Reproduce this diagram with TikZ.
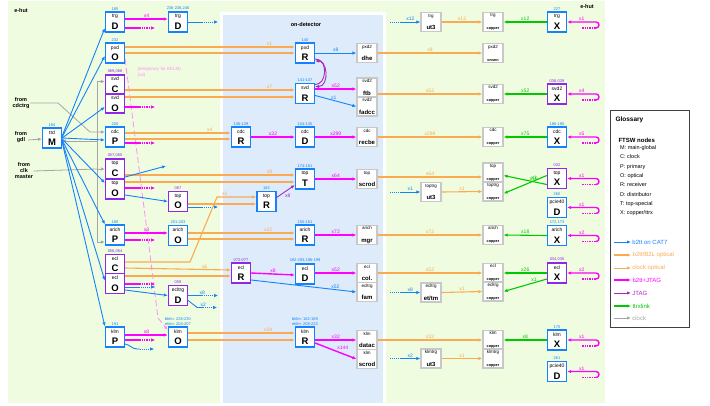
\documentclass[tikz,border=0pt]{standalone}
\usepackage{fontspec}
\setmainfont{Liberation Sans}
\usetikzlibrary{arrows.meta, positioning, calc}
\definecolor{ftblue}{RGB}{20,130,250}
\definecolor{ftpurple}{RGB}{140,40,230}
\definecolor{ftmag}{RGB}{255,0,255}
\definecolor{ftorange}{RGB}{250,170,80}
\definecolor{ftgreen}{RGB}{0,200,0}
\definecolor{ftgray}{RGB}{165,165,165}
\definecolor{jtagcol}{RGB}{170,40,190}
\definecolor{ehutbg}{RGB}{240,252,224}
\definecolor{detbg}{RGB}{221,235,250}
\definecolor{boxgray}{RGB}{200,200,200}

\tikzset{
  ftn/.style={draw=ftblue, line width=1.3pt, fill=white, minimum width=19pt, minimum height=20pt, inner sep=0pt, align=center},
  ftnp/.style={ftn, draw=ftpurple},
  cpb/.style={draw=boxgray, line width=1.3pt, fill=white, minimum width=20pt, minimum height=19pt, inner sep=0pt, align=center},
  idl/.style={font=\fontsize{4}{4.5}\selectfont, text=ftblue, inner sep=0.7pt},
  idlp/.style={idl, text=ftpurple},
  txt/.style={font=\fontsize{5.5}{6}\selectfont\bfseries, align=center, inner sep=0.5pt},
  mult/.style={font=\fontsize{5}{5}\selectfont, inner sep=0.8pt},
  bl/.style={draw=ftblue, line width=0.9pt},
  mg/.style={draw=ftmag, line width=1.4pt},
  orl/.style={draw=ftorange, line width=1.1pt},
  gn/.style={draw=ftgreen, line width=1.1pt},
  gyl/.style={draw=ftgray, line width=0.8pt},
  jt/.style={draw=jtagcol, line width=0.9pt},
}
\newcommand{\ftx}[2]{{\fontsize{5}{5.5}\selectfont #1}\\[-0.5pt]{\fontsize{9.5}{9.5}\selectfont\bfseries #2}}
\newcommand{\cpx}[2]{{\fontsize{4.5}{5}\selectfont #1}\\[0.5pt]{\fontsize{6}{6}\selectfont\bfseries #2}}
\newcommand{\cop}[2][copper]{{\fontsize{4.5}{5}\selectfont #2}\\[1pt]{\fontsize{3.8}{4}\selectfont\bfseries #1}}
% solid start, dotted end
\newcommand{\stubout}[2]{\draw[#1] (#2) -- ++(14,0) edge[densely dotted,->] ++(16,0);}
\newcommand{\stubin}[3]{\draw[#1, densely dotted] ($(#2.west)+(-30,0)$) -- ++(10,0) edge[->, solid] node[mult, text=ftblue, above]{#3} (#2.west);}
\newcommand{\loopin}[2]{%
  \draw[mg, densely dotted] ($(#1.east)+(15,6)$) -- ++(14,0);
  \draw[mg, ->] ($(#1.east)+(29,6)$) to[out=0, in=0, looseness=1.6] ($(#1.east)+(29,0)$) -- (#1.east) node[mult, text=ftmag, above, pos=0.5]{#2};}

\begin{document}
\begin{tikzpicture}[x=1pt, y=-1pt, >={Latex[length=4pt,width=3.4pt]}]
\useasboundingbox (0,0) rectangle (710,405);
% areas
\fill[ehutbg] (8,1) rectangle (605,403);
\fill[white] (220,12) rectangle (386,403);
\fill[detbg] (223,15) rectangle (383,403);
\node[txt] at (21,11) {e-hut};
\node[txt] at (587,7) {e-hut};
\node[txt] at (306,25) {on-detector};

% e-hut FTSWs
\node[ftn, label={[idl]above:184}] (ttdM) at (52,138) {\ftx{ttd}{M}};
\node[ftn, label={[idl]above:185}] (trgDa) at (115,22) {\ftx{trg}{D}};
\node[ftn, label={[idl]above:232}] (pxdO) at (115,53) {\ftx{pxd}{O}};
\node[ftnp, minimum height=19pt, label={[idlp]above:069,066}] (svdC) at (115,84.5) {\ftx{svd}{C}};
\node[ftnp, minimum height=19pt] (svdO) at (115,103.5) {\ftx{svd}{O}};
\node[ftn, label={[idl]above:200}] (cdcP) at (115,137) {\ftx{cdc}{P}};
\node[ftnp, label={[idlp]above:057,065}] (topC) at (115,169) {\ftx{top}{C}};
\node[ftnp] (topO) at (115,189) {\ftx{top}{O}};
\node[ftn, label={[idl]above:180}] (arichP) at (115,235) {\ftx{arich}{P}};
\node[ftnp, minimum height=19.5pt, label={[idlp]above:056,064}] (eclC) at (115,264) {\ftx{ecl}{C}};
\node[ftnp, minimum height=19.5pt] (eclO) at (115,283.5) {\ftx{ecl}{O}};
\node[ftn, label={[idl]above:191}] (klmP) at (115,337) {\ftx{klm}{P}};

\node[ftn, label={[idl]above:236-238,246}] (trgDb) at (178,22) {\ftx{trg}{D}};
\node[ftnp, label={[idlp]above:067}] (topOb) at (178,201.5) {\ftx{top}{O}};
\node[ftn, label={[idl]above:201-203}] (arichO) at (178,235.5) {\ftx{arich}{O}};
\node[ftnp, label={[idlp]above:059}] (ecltrgD) at (178,295.5) {\ftx{ecltrg}{D}};
\node[ftn, label={[idl, align=left]above:{bklm: 228-230\\eklm: 204-207}}] (klmO) at (178,337) {\ftx{klm}{O}};

% on-detector
\node[ftn, label={[idl]above:136-139}] (cdcR) at (241,137) {\ftx{cdc}{R}};
\node[ftn, label={[idl]above:182}] (topR) at (266.5,201.5) {\ftx{top}{R}};
\node[ftnp, label={[idlp]above:072-077}] (eclR) at (241,273) {\ftx{ecl}{R}};
\node[ftn, label={[idl]above:140}] (pxdR) at (305,53) {\ftx{pxd}{R}};
\node[ftn, label={[idl]above:141-147}] (svdR) at (305,93.5) {\ftx{svd}{R}};
\node[ftn, label={[idl]above:104-135}] (cdcD) at (305,137) {\ftx{cdc}{D}};
\node[ftn, label={[idl]above:174-181}] (topT) at (305,179) {\ftx{top}{T}};
\node[ftn, label={[idl]above:150-161}] (arichR) at (305,235) {\ftx{arich}{R}};
\node[ftn, label={[idl]above:192-193,196-199}] (eclD) at (305,274) {\ftx{ecl}{D}};
\node[ftn, label={[idl, align=left]above:{bklm: 162-169\\eklm: 208-223}}] (klmR) at (305,337) {\ftx{klm}{R}};

\node[cpb] (pxdDhe) at (367,53) {\cpx{pxd2}{dhe}};
\node[cpb] (svdFtb) at (367,87.5) {\cpx{svd2}{ftb}};
\node[cpb] (svdFadc) at (367,106.5) {\cpx{svd2}{fadcc}};
\node[cpb] (cdcRecbe) at (367,137) {\cpx{cdc}{recbe}};
\node[cpb] (topScrod) at (367,179) {\cpx{top}{scrod}};
\node[cpb] (arichMgr) at (367,235) {\cpx{arich}{mgr}};
\node[cpb] (eclCol) at (367,273) {\cpx{ecl}{col.}};
\node[cpb] (eclFam) at (367,292) {\cpx{ecltrg}{fam}};
\node[cpb] (klmDatac) at (367,340) {\cpx{klm}{datac}};
\node[cpb] (klmScrod) at (367,359) {\cpx{klm}{scrod}};

% trigger and copper side
\node[cpb] (trgUt) at (431,22) {\cpx{trg}{ut3}};
\node[cpb] (toptrgUt) at (431,192) {\cpx{toptrg}{ut3}};
\node[cpb] (ecltrgEt) at (431,292.5) {\cpx{ecltrg}{et/tm}};
\node[cpb] (klmtrgUt) at (431,358.5) {\cpx{klmtrg}{ut3}};

\node[cpb] (trgCop) at (493,22) {\cop{trg}};
\node[cpb] (pxdOnsen) at (493,53) {\cop[onsen]{pxd2}};
\node[cpb] (svdCop) at (493,94) {\cop{svd2}};
\node[cpb] (cdcCop) at (493,137) {\cop{cdc}};
\node[cpb] (topCop) at (493,172.5) {\cop{top}};
\node[cpb] (toptrgCop) at (493,191.5) {\cop{toptrg}};
\node[cpb] (arichCop) at (493,235) {\cop{arich}};
\node[cpb] (eclCop) at (493,273) {\cop{ecl}};
\node[cpb] (ecltrgCop) at (493,291.5) {\cop{ecltrg}};
\node[cpb] (klmCop) at (493,340) {\cop{klm}};
\node[cpb] (klmtrgCop) at (493,358.5) {\cop{klmtrg}};

\node[ftn, label={[idl]above:227}] (trgX) at (557,22) {\ftx{trg}{X}};
\node[ftnp, label={[idlp]above:036-039}] (svdX) at (557,94) {\ftx{svd2}{X}};
\node[ftn, label={[idl]above:186-190}] (cdcX) at (557,137) {\ftx{cdc}{X}};
\node[ftnp, label={[idlp]above:032}] (topX) at (557,178.5) {\ftx{top}{X}};
\node[ftn, label={[idl]above:260}] (pcieA) at (557,207.5) {\ftx{pcie40}{D}};
\node[ftn, label={[idl]above:172,173}] (arichX) at (557,235.5) {\ftx{arich}{X}};
\node[ftnp, label={[idlp]above:034,035}] (eclX) at (557,273) {\ftx{ecl}{X}};
\node[ftn, label={[idl]above:170}] (klmX) at (557,340) {\ftx{klm}{X}};
\node[ftn, label={[idl]above:261}] (pcieB) at (557,371.5) {\ftx{pcie40}{D}};

% external inputs
\node[txt] (fromCdc) at (21,103) {from\\cdctrg};
\node[txt] (fromGdl) at (21,137) {from\\gdl};
\node[txt] (fromClk) at (24,171) {from\\clk\\master};
\coordinate (clkBus) at (97,169);
\draw[gyl,->] (fromCdc.east) -- (58,103) -- (90,132) -- ([yshift=5pt]cdcP.west);
\draw[gyl,->] ([yshift=-3pt]fromGdl.east) -- ([yshift=-1pt]ttdM.west);
\draw[gyl] (fromClk.east) -- (clkBus);
\draw[gyl,->] (clkBus) |- ([yshift=3pt]svdC.west);
\draw[gyl,->] (clkBus) |- ([yshift=-3pt]ttdM.east);
\draw[gyl,->] (clkBus) -- (topC.west);
\draw[gyl,->] (clkBus) |- ([yshift=-7pt]arichP.west);

% b2tt on CAT7 from ttd
\draw[bl,->] ([yshift=2pt]ttdM.east) -- ([yshift=-6pt]trgDa.west);
\draw[bl,->] ([yshift=1pt]ttdM.east) -- ([yshift=-3pt]pxdO.west);
\draw[bl,->] (ttdM.east) -- ([yshift=-3.5pt]svdO.west);
\draw[bl,->] (ttdM.east) -- ([yshift=-3pt]cdcP.west);
\draw[bl,->] ([yshift=-1pt]ttdM.east) -- ([yshift=6pt]topO.west);
\draw[bl,->] ([yshift=-2pt]ttdM.east) -- (arichP.north west);
\draw[bl,->] ([yshift=-3pt]ttdM.east) -- ([yshift=3pt]eclO.west);
\draw[bl,->] ([yshift=-4pt]ttdM.east) -- (klmP.north west);

% temporary EKLM link
\draw[ftmag!45, line width=0.8pt, dash pattern=on 6pt off 3pt, ->] ([yshift=-6pt]pxdO.east) -- (158,318) -- ([yshift=7pt]klmO.west);
\node[font=\fontsize{4.5}{5.5}\selectfont, text=ftmag!45, align=left, anchor=north west] at (134,64) {(temporary for EKLM)\\(x4)};

% trg row
\draw[mg,->] ([yshift=3pt]trgDa.east) -- ([yshift=3pt]trgDb.west) node[mult, text=ftmag, above, midway]{x4};
\stubout{mg}{[yshift=-6pt]trgDa.east}
\stubout{bl}{trgDb.east}
\stubin{bl}{trgUt}{x12}
\draw[orl,->] (trgUt.east) -- (trgCop.west) node[mult, text=ftorange, above, midway]{x12};
\draw[gn,->] (trgX.west) -- (trgCop.east) node[mult, text=ftgreen, above, midway]{x12};
\loopin{trgX}{x1}

% pxd row
\draw[orl,->] ([yshift=6pt]pxdO.east) -- ([yshift=6pt]pxdR.west) node[mult, text=ftorange, above, pos=0.85]{x1};
\draw[orl,->] (pxdO.east) -- (pxdR.west);
\draw[bl,->] (pxdR.east) -- (pxdDhe.west) node[mult, text=ftblue, above, midway]{x8};
\draw[orl,->] (pxdDhe.east) -- (pxdOnsen.west) node[mult, text=ftorange, above, midway]{x8};
\draw[jt,->] ([yshift=-6pt]pxdR.east) to[out=0, in=0, looseness=1.3] ([yshift=7pt]svdR.east);
\draw[jt,->] ([yshift=9pt]svdR.east) to[out=0, in=0, looseness=1.3] ([yshift=-8pt]pxdR.east);

% svd row
\draw[orl,->] ([yshift=-5.5pt]svdC.east) -- ([yshift=3.5pt]svdR.west) node[mult, text=ftorange, above, pos=0.85]{x7};
\draw[orl,->] ([yshift=6.5pt]svdO.east) -- ([yshift=-3.5pt]svdR.west);
\stubout{mg}{[yshift=-3.5pt]svdO.east}
\draw[mg,->] ([yshift=4.5pt]svdR.east) -- ([yshift=-1.5pt]svdFtb.west) node[mult, text=ftmag, above, midway]{x52};
\draw[bl,->] ([yshift=-2pt]svdR.east) -- (svdFadc.west) node[mult, text=ftblue, above, pos=0.45]{x1};
\draw[orl,->] ([yshift=-6.5pt]svdFtb.east) -- (svdCop.west) node[mult, text=ftorange, above, midway]{x52};
\draw[gn,->] (svdX.west) -- (svdCop.east) node[mult, text=ftgreen, above, midway]{x52};
\loopin{svdX}{x4}

% cdc row
\draw[orl,->] ([yshift=4pt]cdcP.east) -- ([yshift=4pt]cdcR.west) node[mult, text=ftorange, above, pos=0.8]{x4};
\draw[orl,->] ([yshift=-2pt]cdcP.east) -- ([yshift=-2pt]cdcR.west);
\stubout{mg}{[yshift=-6pt]cdcP.east}
\draw[mg,->] (cdcR.east) -- (cdcD.west) node[mult, text=ftmag, above, midway]{x32};
\draw[mg,->] (cdcD.east) -- (cdcRecbe.west) node[mult, text=ftmag, above, midway]{x299};
\draw[orl,->] (cdcRecbe.east) -- (cdcCop.west) node[mult, text=ftorange, above, midway]{x299};
\draw[gn,->] (cdcX.west) -- (cdcCop.east) node[mult, text=ftgreen, above, midway]{x75};
\loopin{cdcX}{x5}

% top row
\draw[orl,->] ([yshift=-6pt]topC.east) -- ([yshift=4pt]topT.west) node[mult, text=ftorange, above, pos=0.85]{x8};
\draw[orl,->] ([yshift=7pt]topO.east) -- ([yshift=-3pt]topT.west);
\coordinate (topCend) at (166,166);
\draw[bl,->] ([yshift=-8pt]topC.east) -- (topCend);
\stubout{mg}{[yshift=1pt]topO.east}
\draw[bl,->] ([yshift=-6pt]topO.east) -- (topOb.west);
\draw[orl,->] ([yshift=-2.5pt]topOb.east) -- ([yshift=-2.5pt]topR.west);
\stubout{bl}{[yshift=-5.5pt]topOb.east}
\draw[orl,->] ([yshift=2pt]eclC.east) -- (190,262) -- (217,197) -- ([yshift=4.5pt]topR.west) node[mult, text=ftorange, above, pos=0.2]{x1};
\draw[jt,->] ([yshift=4pt]topR.east) -- ([yshift=-6pt]topT.west) node[mult, text=jtagcol, below right, pos=0.4]{x8};
\draw[mg,->] (topT.east) -- (topScrod.west) node[mult, text=ftmag, above, midway]{x64};
\draw[orl,->] ([yshift=2pt]topScrod.east) -- ([yshift=-4.5pt]topCop.west) node[mult, text=ftorange, above, midway]{x64};
\stubin{bl}{toptrgUt}{x1}
\draw[orl,->] (toptrgUt.east) -- (toptrgCop.west) node[mult, text=ftorange, above, midway]{x1};
\draw[gn,->] ([yshift=-6pt]topX.west) -- ([yshift=-3pt]topCop.east) node[mult, text=ftgreen, above, pos=0.3]{x16};
\draw[gn,->] ([yshift=3pt]topX.west) -- ([yshift=-2pt]toptrgCop.east) node[mult, text=ftgreen, above, pos=0.3]{x1};
\loopin{topX}{x1}
\loopin{pcieA}{x1}

% arich row
\draw[mg,->] ([yshift=2pt]arichP.east) -- ([yshift=2.5pt]arichO.west) node[mult, text=ftmag, above, midway]{x3};
\stubout{mg}{[yshift=-5pt]arichP.east}
\draw[orl,->] ([yshift=2.5pt]arichO.east) -- ([yshift=2pt]arichR.west) node[mult, text=ftorange, above, pos=0.75]{x12};
\draw[orl,->] ([yshift=-3.5pt]arichO.east) -- ([yshift=-4pt]arichR.west);
\draw[mg,->] (arichR.east) -- (arichMgr.west) node[mult, text=ftmag, above, midway]{x72};
\draw[orl,->] (arichMgr.east) -- (arichCop.west) node[mult, text=ftorange, above, midway]{x72};
\draw[gn,->] (arichX.west) -- (arichCop.east) node[mult, text=ftgreen, above, midway]{x18};
\loopin{arichX}{x2}

% ecl row
\draw[orl,->] ([yshift=-4pt]eclC.east) -- ([yshift=3pt]eclR.west) node[mult, text=ftorange, above, pos=0.75]{x6};
\draw[orl,->] ([yshift=7.5pt]eclO.east) -- ([yshift=-3pt]eclR.west);
\stubout{mg}{[yshift=-0.5pt]eclO.east}
\stubout{bl}{[yshift=-3.5pt]eclO.east}
\draw[bl,->] ([yshift=-6.5pt]eclO.east) -- (ecltrgD.west);
\draw[bl] (ecltrgD.east) -- ++(14,0) edge[densely dotted,->] node[mult, text=ftblue, above, pos=0]{x8} ++(16,0);
\draw[bl] ([yshift=-5pt]ecltrgD.east) -- ++(9,7) -- ++(6,0) edge[densely dotted,->] node[mult, text=ftblue, above, pos=0]{x2} ++(14,0);
\draw[mg,->] (eclR.east) -- ([yshift=-1pt]eclD.west) node[mult, text=ftmag, above, midway]{x8};
\draw[bl,->] ([yshift=-7pt]eclR.east) -- (eclFam.west) node[mult, text=ftblue, above, pos=0.8]{x52};
\draw[mg,->] ([yshift=1pt]eclD.east) -- (eclCol.west) node[mult, text=ftmag, above, midway]{x52};
\draw[orl,->] (eclCol.east) -- (eclCop.west) node[mult, text=ftorange, above, midway]{x52};
\stubin{bl}{ecltrgEt}{x8}
\draw[orl,->] (ecltrgEt.east) -- (ecltrgCop.west) node[mult, text=ftorange, above, midway]{x1};
\draw[gn,->] (eclX.west) -- (eclCop.east) node[mult, text=ftgreen, above, midway]{x26};
\draw[gn,->] ([yshift=-6pt]eclX.west) -- (ecltrgCop.east) node[mult, text=ftgreen, above, pos=0.3]{x1};
\loopin{eclX}{x2}

% klm row
\draw[mg,->] ([yshift=2pt]klmP.east) -- ([yshift=2pt]klmO.west) node[mult, text=ftmag, above, midway]{x8};
\stubout{mg}{[yshift=-3pt]klmP.east}
\draw[bl] ([yshift=-7pt]klmP.east) to[out=-10, in=180] ++(12,5) -- ++(3,0) edge[densely dotted,->] ++(14,0);
\draw[orl,->] ([yshift=4pt]klmO.east) -- ([yshift=4pt]klmR.west) node[mult, text=ftorange, above, pos=0.75]{x24};
\draw[orl,->] ([yshift=-3pt]klmO.east) -- ([yshift=-3pt]klmR.west);
\draw[mg,->] ([yshift=-3pt]klmR.east) -- (klmDatac.west) node[mult, text=ftmag, above, midway]{x32};
\draw[mg,->] ([yshift=-6pt]klmR.east) -- (klmScrod.west) node[mult, text=ftmag, above right, pos=0.5]{x144};
\draw[orl,->] (klmDatac.east) -- (klmCop.west) node[mult, text=ftorange, above, midway]{x32};
\stubin{bl}{klmtrgUt}{x2}
\draw[orl,->] (klmtrgUt.east) -- (klmtrgCop.west) node[mult, text=ftorange, above, midway]{x1};
\draw[gn,->] (klmX.west) -- (klmCop.east) node[mult, text=ftgreen, above, midway]{x8};
\loopin{klmX}{x1}
\loopin{pcieB}{x1}

% glossary
\draw[draw=black!75, line width=0.8pt, fill=white] (610,110) rectangle (689,327);
\node[font=\fontsize{6.5}{7}\selectfont\bfseries, anchor=west] at (612,120) {Glossary};
\node[font=\fontsize{6}{7}\selectfont\bfseries, anchor=west] at (615,140) {FTSW nodes};
\node[font=\fontsize{5.5}{9.3}\selectfont, align=left, anchor=north west, inner sep=0pt] at (620,145.5)
  {M: main-global\\C: clock\\P: primary\\O: optical\\R: receiver\\D: distributor\\T: top-special\\X: copper/ttrx};
\foreach \ly/\lc/\lw/\lt in {242/ftblue/0.9/{b2tt on CAT7}, 255/ftorange/1.4/{b2tt/B2L optical}, 268/ftorange/0.8/{clock optical}, 280/ftmag/1.3/{b2tt+JTAG}, 293/jtagcol/0.9/{JTAG}, 306/ftgreen/1.1/{ttrxlink}, 318/ftgray/0.8/{clock}}
  \draw[draw=\lc, line width=\lw pt, ->] (614,\ly) -- (631,\ly) node[right, text=\lc, font=\fontsize{6}{6}\selectfont, inner sep=1pt] {\lt};
\end{tikzpicture}
\end{document}
